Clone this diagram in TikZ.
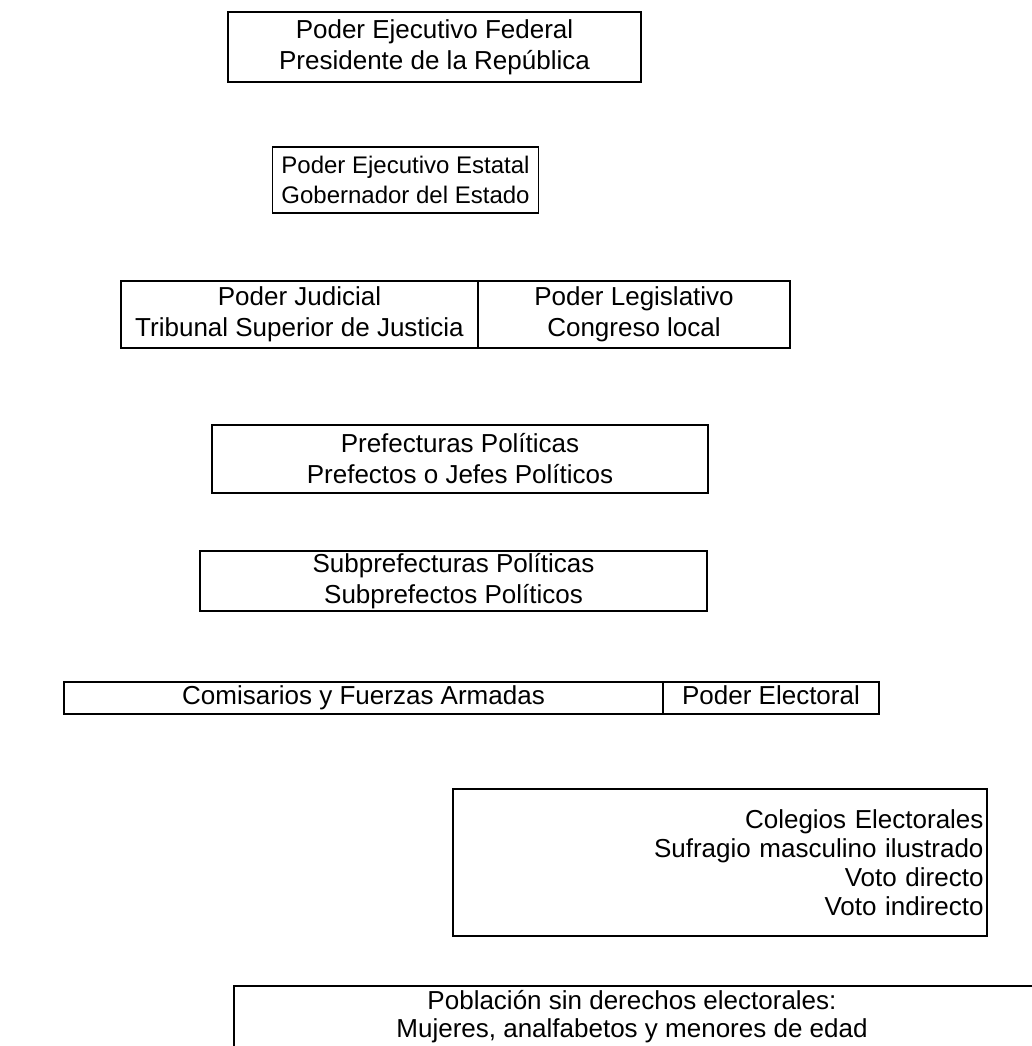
\documentclass[tikz,border=0pt]{standalone}
\usepackage{fontspec}
\setmainfont{Liberation Sans}
\begin{document}
\begin{tikzpicture}[x=1pt,y=-1pt,
  orgbox/.style={draw=black,line width=1.8pt,inner sep=0pt,align=center,
    font=\fontsize{26}{31}\selectfont},
  onerow/.style={text height=18.5pt,text depth=5.5pt},
  plain/.style={inner sep=0pt,align=center,font=\fontsize{26}{28}\selectfont}]
\useasboundingbox (0,0) rectangle (1032,1046);
% box 1
\node[orgbox,minimum width=413pt,minimum height=70pt] (b1) at (434.5,47)
  {Poder Ejecutivo Federal\\Presidente de la República};
% box 2
\node[orgbox,minimum width=266pt,minimum height=66pt,
  font=\fontsize{24}{30}\selectfont] (b2) at (405.5,180)
  {Poder Ejecutivo Estatal\\Gobernador del Estado};
% box 3
\node[orgbox,minimum width=357pt,minimum height=67pt] (b3a) at (299.5,314.5)
  {Poder Judicial\\Tribunal Superior de Justicia};
\node[orgbox,minimum width=312pt,minimum height=67pt] (b3b) at (634,314.5)
  {Poder Legislativo\\Congreso local};
% box 4
\node[orgbox,minimum width=496pt,minimum height=68pt] (b4) at (460,459)
  {Prefecturas Políticas\\Prefectos o Jefes Políticos};
% box 5
\node[orgbox,minimum width=507pt,minimum height=60pt] (b5) at (453.5,581)
  {Subprefecturas Políticas\\Subprefectos Políticos};
% box 6
\node[orgbox,onerow,minimum width=599pt,minimum height=32pt] (b6a) at (363.5,698)
  {Comisarios y Fuerzas Armadas};
\node[orgbox,onerow,minimum width=216pt,minimum height=32pt] (b6b) at (771,698)
  {Poder Electoral};
% box 7
\node[orgbox,minimum width=534pt,minimum height=147pt,align=right,
  text width=527pt,font=\fontsize{26}{29}\selectfont] (b7) at (720,862.5)
  {Colegios Electorales\\Sufragio masculino ilustrado\\Voto directo\\Voto indirecto};
% box 8 (cut by the page edge)
\coordinate (b8tl) at (234,986);
\coordinate (b8tr) at (1034,986);
\coordinate (b8bl) at (234,1050);
\draw[line width=1.8pt] (b8bl) -- (b8tl) -- (b8tr);
\node[plain] (b8) at (632,1017)
  {Población sin derechos electorales:\\Mujeres, analfabetos y menores de edad};
\end{tikzpicture}
\end{document}
